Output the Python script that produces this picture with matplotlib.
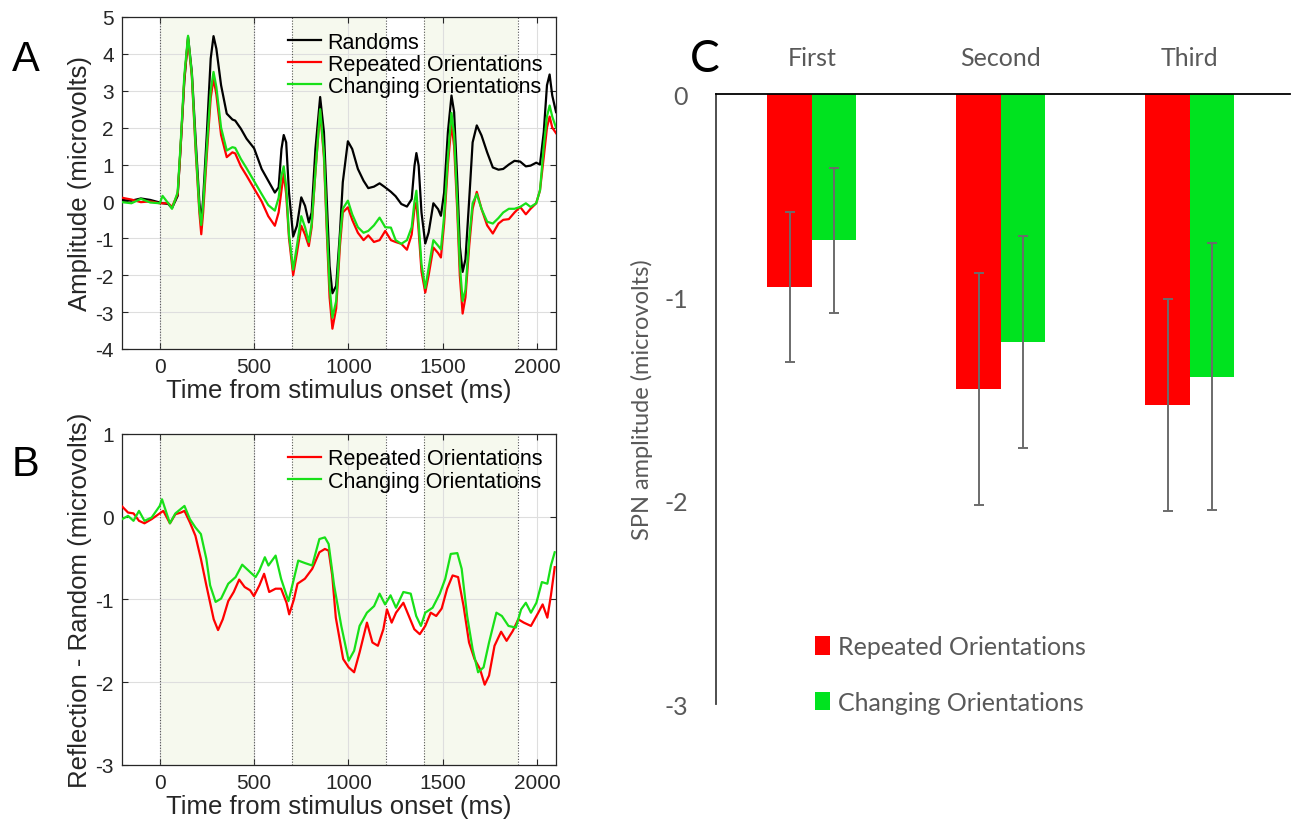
import matplotlib
matplotlib.use("Agg")
import matplotlib.pyplot as plt
from matplotlib.patches import Patch

# --- Panel A: grand-average ERPs (microvolts) ---
time_a = [-200, -150, -100, -50, 0, 15, 45, 65, 95, 110, 130, 150, 170, 190, 210, 220, 230,
          250, 270, 285, 300, 325, 355, 385, 400, 430, 460, 500, 540, 575, 610, 630, 645,
          657, 670, 685, 707, 727, 750, 770, 790, 805, 825, 850, 870, 885, 900, 915, 935,
          955, 970, 997, 1020, 1050, 1080, 1105, 1135, 1165, 1195, 1225, 1250, 1280, 1310,
          1335, 1350, 1360, 1372, 1387, 1407, 1425, 1450, 1475, 1490, 1507, 1527, 1546,
          1560, 1577, 1590, 1605, 1620, 1640, 1658, 1680, 1705, 1735, 1765, 1795, 1820,
          1850, 1880, 1910, 1940, 1965, 1995, 2015, 2035, 2052, 2066, 2080, 2100]
randoms = [0.04, 0.02, 0.08, 0.04, -0.03, -0.05, -0.07, -0.18, 0.15, 1.42, 3.24, 4.46, 3.51,
           1.70, -0.03, -0.55, 0.06, 1.88, 3.87, 4.48, 4.14, 3.15, 2.38, 2.22, 2.19, 1.97,
           1.70, 1.44, 0.88, 0.56, 0.24, 0.38, 1.42, 1.80, 1.60, 0.24, -0.95, -0.66, 0.11,
           -0.12, -0.57, -0.30, 1.42, 2.83, 1.88, 0.06, -1.75, -2.49, -2.29, -0.84, 0.52,
           1.63, 1.42, 0.88, 0.56, 0.36, 0.40, 0.49, 0.38, 0.26, 0.14, -0.07, -0.14, 0.06,
           0.97, 1.31, 0.97, -0.30, -1.14, -0.84, -0.05, -0.21, -0.39, 0.24, 1.88, 2.87,
           2.42, 0.52, -1.21, -1.91, -1.57, 0.06, 1.60, 2.06, 1.79, 1.33, 0.92, 0.86, 0.88,
           1.00, 1.10, 1.08, 0.95, 0.97, 1.05, 1.00, 1.88, 3.15, 3.44, 2.87, 2.42]
repeated_a = [0.10, 0.05, -0.02, 0.0, -0.05, -0.05, -0.05, -0.15, 0.2, 1.4, 3.3, 4.4, 3.4,
              1.4, -0.3, -0.89, -0.3, 1.3, 2.8, 3.33, 2.9, 1.8, 1.2, 1.33, 1.3, 0.95, 0.7,
              0.35, 0.0, -0.4, -0.66, -0.3, 0.3, 0.75, 0.2, -1.0, -2.0, -1.4, -0.66, -0.9,
              -1.21, -0.7, 0.8, 2.45, 1.2, -0.8, -2.6, -3.45, -2.9, -1.2, -0.3, -0.16, -0.5,
              -0.85, -1.05, -0.92, -1.1, -1.05, -0.8, -1.05, -1.1, -1.15, -1.31, -0.9, -0.2,
              -0.03, -0.8, -1.9, -2.47, -2.0, -1.25, -1.4, -1.52, -0.6, 1.0, 2.1, 1.5, -0.3,
              -2.0, -3.04, -2.6, -1.2, -0.2, 0.26, -0.2, -0.65, -0.87, -0.6, -0.5, -0.48,
              -0.3, -0.15, -0.35, -0.2, -0.05, 0.3, 1.2, 2.0, 2.3, 2.0, 1.85]
changing_a = [-0.02, -0.05, 0.07, -0.03, -0.05, 0.15, -0.05, -0.2, 0.25, 1.5, 3.4, 4.49,
              3.45, 1.5, -0.2, -0.64, -0.1, 1.5, 3.0, 3.51, 3.1, 2.0, 1.38, 1.47, 1.45, 1.15,
              0.9, 0.55, 0.2, -0.1, -0.25, 0.1, 0.7, 0.95, 0.4, -0.9, -1.85, -1.2, -0.4, -0.7,
              -1.1, -0.6, 0.8, 2.5, 1.3, -0.6, -2.3, -3.15, -2.7, -1.0, -0.2, 0.02, -0.35,
              -0.7, -0.85, -0.8, -0.65, -0.44, -0.7, -0.71, -1.05, -1.15, -1.05, -0.7, 0.0,
              0.29, -0.6, -1.7, -2.35, -1.8, -1.05, -1.2, -1.3, -0.4, 1.2, 2.4, 1.8, -0.1,
              -1.7, -2.7, -2.4, -1.0, -0.05, 0.2, -0.2, -0.55, -0.6, -0.45, -0.3, -0.2, -0.2,
              -0.15, -0.05, -0.15, -0.05, 0.3, 1.5, 2.3, 2.6, 2.3, 2.0]

# --- Panel B: reflection minus random difference waves ---
time_b_rep = [-200, -168, -139, -110, -81, -43, 0, 19, 54, 83, 112, 131, 160, 189, 218, 247,
              286, 309, 334, 363, 392, 421, 450, 479, 499, 528, 553, 580, 614, 643, 672, 686,
              711, 730, 769, 808, 846, 875, 895, 914, 933, 972, 1001, 1030, 1059, 1098, 1127,
              1156, 1185, 1204, 1229, 1252, 1291, 1320, 1349, 1378, 1407, 1436, 1465, 1494,
              1523, 1552, 1581, 1610, 1639, 1668, 1697, 1722, 1745, 1774, 1809, 1838, 1871,
              1900, 1929, 1967, 2006, 2029, 2054, 2073, 2093]
diff_rep = [0.125, 0.05, 0.04, -0.05, -0.08, -0.03, 0.04, 0.07, -0.08, 0.03, 0.05, 0.07,
            -0.07, -0.23, -0.51, -0.83, -1.24, -1.37, -1.24, -1.02, -0.91, -0.76, -0.85,
            -0.89, -0.96, -0.83, -0.69, -0.91, -0.87, -0.87, -1.04, -1.18, -1.0, -0.81, -0.75,
            -0.63, -0.43, -0.39, -0.41, -0.71, -1.22, -1.72, -1.82, -1.88, -1.64, -1.28,
            -1.52, -1.56, -1.36, -1.12, -1.28, -1.16, -1.04, -1.2, -1.36, -1.42, -1.32, -1.16,
            -1.2, -1.11, -0.87, -0.71, -0.73, -1.08, -1.52, -1.72, -1.84, -2.03, -1.92, -1.56,
            -1.39, -1.5, -1.38, -1.24, -1.28, -1.32, -1.16, -1.06, -1.22, -0.95, -0.61]
time_b_chg = [-200, -168, -139, -110, -81, -43, 0, 12, 35, 54, 83, 131, 160, 189, 218, 247,
              267, 296, 325, 363, 402, 437, 479, 508, 528, 557, 576, 614, 643, 682, 711, 734,
              769, 808, 846, 875, 895, 924, 962, 1001, 1030, 1059, 1098, 1136, 1165, 1194,
              1223, 1252, 1291, 1330, 1359, 1384, 1407, 1446, 1484, 1513, 1542, 1577, 1600,
              1629, 1658, 1687, 1716, 1745, 1784, 1813, 1848, 1887, 1915, 1940, 1967, 1996,
              2025, 2054, 2073, 2093]
diff_chg = [-0.03, 0.01, -0.05, 0.07, -0.05, -0.01, 0.13, 0.21, 0.05, -0.08, 0.04, 0.13,
            -0.03, -0.13, -0.21, -0.51, -0.83, -1.03, -0.99, -0.81, -0.73, -0.58, -0.67,
            -0.73, -0.65, -0.49, -0.59, -0.47, -0.75, -1.02, -0.75, -0.53, -0.56, -0.59,
            -0.27, -0.25, -0.33, -0.83, -1.32, -1.74, -1.62, -1.32, -1.16, -1.08, -0.93,
            -1.06, -0.95, -1.1, -0.91, -0.93, -1.2, -1.32, -1.16, -1.1, -0.93, -0.75, -0.45,
            -0.44, -0.63, -1.2, -1.6, -1.88, -1.82, -1.52, -1.16, -1.2, -1.32, -1.34, -1.12,
            -1.04, -1.16, -1.04, -0.79, -0.81, -0.59, -0.43]

# windows where the reflection stimuli were on screen (ms)
windows = [(0, 500), (700, 1200), (1400, 1900)]

# --- Panel C: mean SPN amplitude per presentation ---
presentations = ["First", "Second", "Third"]
spn_repeated = [-0.95, -1.45, -1.53]
spn_changing = [-0.72, -1.22, -1.39]
err_repeated = [0.37, 0.57, 0.52]
err_changing = [0.355, 0.52, 0.655]

RED = "#ff0000"
GREEN = "#18e018"
BAR_GREEN = "#00e31f"
GRAY_TXT = "#595959"

plt.rcParams["font.family"] = ["Liberation Sans", "DejaVu Sans"]
plt.rcParams["axes.unicode_minus"] = False
plt.rcParams["lines.solid_joinstyle"] = "round"
fig = plt.figure(figsize=(12.91, 8.20), dpi=100)


def erp_axes(rect, ylim, yticks):
    ax = fig.add_axes(rect)
    for lo, hi in windows:
        ax.axvspan(lo, hi, color="#f6f9ee", zorder=0, lw=0)
    for x in [w for pair in windows for w in pair]:
        ax.axvline(x, color="#555555", ls=(0, (1, 1.5)), lw=0.8, zorder=1)
    ax.set_xlim(-200, 2100)
    ax.set_ylim(*ylim)
    ax.set_xticks([0, 500, 1000, 1500, 2000])
    ax.set_yticks(yticks)
    ax.grid(True, color="#dedede", lw=0.8, zorder=0.5)
    ax.set_axisbelow(True)
    ax.tick_params(direction="in", top=True, right=True, labelsize=15,
                   colors="#262626", length=4, pad=6)
    for s in ax.spines.values():
        s.set_color("#262626")
        s.set_linewidth(0.9)
    ax.set_xlabel("Time from stimulus onset (ms)", fontsize=18.5, color="#262626", labelpad=1)
    return ax


axA = erp_axes([0.0945, 0.5732, 0.3362, 0.4049], (-4, 5), range(-4, 6))
axA.plot(time_a, randoms, color="black", lw=1.6, label="Randoms", zorder=3)
axA.plot(time_a, repeated_a, color=RED, lw=1.6, label="Repeated Orientations", zorder=3)
axA.plot(time_a, changing_a, color=GREEN, lw=1.6, label="Changing Orientations", zorder=4)
axA.set_ylabel("Amplitude (microvolts)", fontsize=18.5, color="#262626", labelpad=2)
axA.legend(loc="upper left", bbox_to_anchor=(0.352, 0.995), frameon=False, fontsize=15.5,
           handlelength=1.55, handletextpad=0.3, labelspacing=0.05, borderaxespad=0.2)

axB = erp_axes([0.0945, 0.0659, 0.3362, 0.4037], (-3, 1), range(-3, 2))
axB.plot(time_b_rep, diff_rep, color=RED, lw=1.6, label="Repeated Orientations", zorder=3)
axB.plot(time_b_chg, diff_chg, color=GREEN, lw=1.6, label="Changing Orientations", zorder=4)
axB.set_ylabel("Reflection - Random (microvolts)", fontsize=18.5, color="#262626", labelpad=2)
axB.legend(loc="upper left", bbox_to_anchor=(0.352, 0.995), frameon=False, fontsize=15.5,
           handlelength=1.55, handletextpad=0.3, labelspacing=0.05, borderaxespad=0.2)

# bar chart with the category axis along zero
axC = fig.add_axes([0.5546, 0.1402, 0.4446, 0.7439])
pos = range(len(presentations))
w = 0.235
xr = [p - w / 2 for p in pos]
xg = [p + w / 2 for p in pos]
axC.bar(xr, spn_repeated, w, color=RED, label="Repeated Orientations")
axC.bar(xg, spn_changing, w, color=BAR_GREEN, label="Changing Orientations")
axC.errorbar(xr, spn_repeated, yerr=err_repeated, fmt="none", ecolor="#6b6b6b",
             elinewidth=1.4, capsize=3.5, capthick=1.4)
axC.errorbar(xg, spn_changing, yerr=err_changing, fmt="none", ecolor="#6b6b6b",
             elinewidth=1.4, capsize=3.5, capthick=1.4)
axC.set_xlim(-0.507, 2.53)
axC.set_ylim(-3, 0)
axC.set_yticks([0, -1, -2, -3])
axC.set_yticklabels(["0", "-1", "-2", "-3"])
axC.xaxis.tick_top()
axC.set_xticks(list(pos))
axC.set_xticklabels(presentations)
axC.tick_params(axis="both", length=0, colors=GRAY_TXT, labelsize=18)
axC.tick_params(axis="x", pad=18)
axC.tick_params(axis="y", pad=20)
for lab in axC.get_xticklabels() + axC.get_yticklabels():
    lab.set_family(["Lato", "DejaVu Sans"])
axC.spines["right"].set_visible(False)
axC.spines["bottom"].set_visible(False)
axC.spines["top"].set_color("black")
axC.spines["top"].set_linewidth(1.3)
axC.spines["left"].set_color("#404040")
axC.spines["left"].set_linewidth(1.3)
axC.set_ylabel("SPN amplitude (microvolts)", fontsize=17, color=GRAY_TXT,
               family=["Lato", "DejaVu Sans"], labelpad=8)
handles = [Patch(facecolor=RED), Patch(facecolor=BAR_GREEN)]
axC.legend(handles, ["Repeated Orientations", "Changing Orientations"], loc="lower left",
           bbox_to_anchor=(0.134, -0.053), frameon=False, handlelength=0.6, handleheight=0.75,
           handletextpad=0.3, labelspacing=1.3, labelcolor=GRAY_TXT,
           prop={"family": ["Lato", "DejaVu Sans"], "size": 18})

fig.text(0.020, 0.927, "A", fontsize=30, ha="center", va="center")
fig.text(0.020, 0.433, "B", fontsize=30, ha="center", va="center")
fig.text(0.546, 0.927, "C", fontsize=32, ha="center", va="center",
         family=["Lato", "DejaVu Sans"])

fig.savefig("out.png", dpi=100)
